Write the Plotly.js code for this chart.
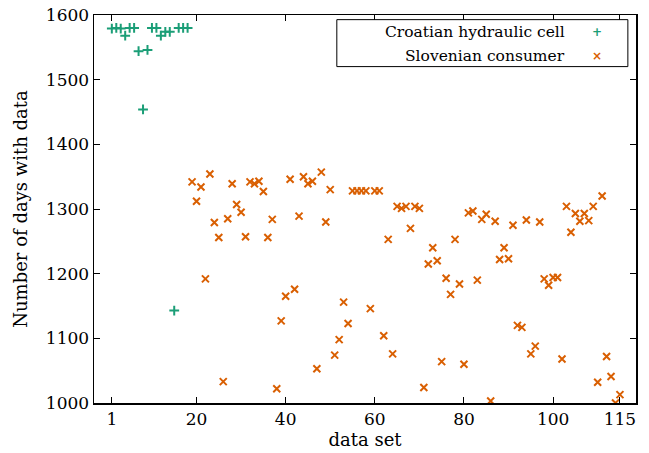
<!DOCTYPE html>
<html>
<head>
<meta charset="utf-8">
<script src="https://cdn.plot.ly/plotly-3.0.1.min.js"></script>
<style>html,body{margin:0;padding:0;background:#fff;}#chart{width:649px;height:453px;}</style>
</head>
<body>
<div id="chart"></div>
<script>
// Data set indices and number of days with data
const croatianSets = [1,2,3,4,5,6,7,8,9,10,11,12,13,14,15,16,17,18];
const croatianDays = [1579,1580,1579,1568,1580,1580,1544,1454,1546,1580,1580,1568,1574,1574,1143,1580,1580,1580];

const slovenianSets = [19,20,21,22,23,24,25,26,27,28,29,30,31,32,33,34,35,36,37,38,39,40,
  41,42,43,44,45,46,47,48,49,50,51,52,53,54,55,56,57,58,59,60,61,62,63,64,65,66,67,68,69,70,
  71,72,73,74,75,76,77,78,79,80,81,82,83,84,85,86,87,88,89,90,91,92,93,94,95,96,97,98,99,100,
  101,102,103,104,105,106,107,108,109,110,111,112,113,114,115];
const slovenianDays = [1342,1312,1334,1192,1354,1279,1256,1033,1285,1339,1307,1295,1257,1342,1339,1343,1327,1256,1284,1022,1127,1165,
  1346,1176,1289,1350,1339,1343,1053,1357,1280,1330,1074,1098,1156,1123,1328,1328,1328,1328,1146,1328,1328,1104,1253,1076,1304,1301,1304,1270,1304,1301,
  1024,1215,1240,1220,1064,1193,1168,1253,1184,1060,1294,1297,1190,1284,1292,1003,1281,1222,1240,1223,1275,1120,1117,1283,1076,1088,1280,1192,1182,1194,
  1194,1068,1304,1264,1293,1281,1293,1282,1304,1032,1320,1072,1041,1000,1013];

const seriesNames = ["Croatian hydraulic cell", "Slovenian consumer"];
const xTickVals = [1,20,40,60,80,100,115];
const yTickVals = [1000,1100,1200,1300,1400,1500,1600];

const green = "#1b9e77";
const orange = "#d95f02";
const fontFam = "DejaVu Serif";
const tickSize = 17;
const titleSize = 18;
const legendSize = 15.5;

const traces = [
  {x: croatianSets, y: croatianDays, type: "scatter", mode: "markers", name: seriesNames[0], showlegend: false,
   marker: {symbol: "cross-thin", size: 7, color: green, line: {color: green, width: 2}}},
  {x: slovenianSets, y: slovenianDays, type: "scatter", mode: "markers", name: seriesNames[1], showlegend: false,
   marker: {symbol: "x-thin", size: 7, color: orange, line: {color: orange, width: 2}}}
];

const axisCommon = {
  showline: true, linecolor: "#000", linewidth: 1.5, mirror: "ticks",
  ticks: "inside", ticklen: 6, tickwidth: 1, tickcolor: "#000",
  showgrid: false, zeroline: false,
  tickfont: {family: fontFam, size: tickSize, color: "#000"}
};

const layout = {
  width: 649, height: 453,
  margin: {l: 94, r: 13, t: 15, b: 50, pad: 0},
  paper_bgcolor: "#fff", plot_bgcolor: "#fff",
  font: {family: fontFam, size: tickSize, color: "#000"},
  showlegend: false,
  xaxis: Object.assign({}, axisCommon, {
    range: [-3, 118.6], tickmode: "array", tickvals: xTickVals, ticktext: xTickVals.map(String),
    title: {text: "data set", font: {family: fontFam, size: titleSize, color: "#000"}, standoff: 5}
  }),
  yaxis: Object.assign({}, axisCommon, {
    range: [1000, 1600], tickmode: "array", tickvals: yTickVals, ticktext: yTickVals.map(String),
    title: {text: "Number of days with data", font: {family: fontFam, size: titleSize, color: "#000"}, standoff: 13}
  }),
  shapes: [
    {type: "rect", xref: "paper", yref: "paper", x0: 0.448, x1: 0.985, y0: 0.867, y1: 0.988,
     line: {color: "#000", width: 1}, fillcolor: "#fff", layer: "above"}
  ],
  annotations: [
    {xref: "paper", yref: "paper", x: 0.873, y: 0.955, xanchor: "right", yanchor: "middle", showarrow: false,
     text: seriesNames[0], font: {family: fontFam, size: legendSize, color: "#000"}},
    {xref: "paper", yref: "paper", x: 0.873, y: 0.895, xanchor: "right", yanchor: "middle", showarrow: false,
     text: seriesNames[1], font: {family: fontFam, size: legendSize, color: "#000"}},
    {xref: "paper", yref: "paper", x: 0.928, y: 0.955, xanchor: "center", yanchor: "middle", showarrow: false,
     text: "<b>+</b>", font: {family: "DejaVu Sans", size: 12, color: green}},
    {xref: "paper", yref: "paper", x: 0.928, y: 0.895, xanchor: "center", yanchor: "middle", showarrow: false,
     text: "<b>×</b>", font: {family: "DejaVu Sans", size: 12, color: orange}}
  ]
};

Plotly.newPlot("chart", traces, layout, {displayModeBar: false, staticPlot: true});
</script>
</body>
</html>
